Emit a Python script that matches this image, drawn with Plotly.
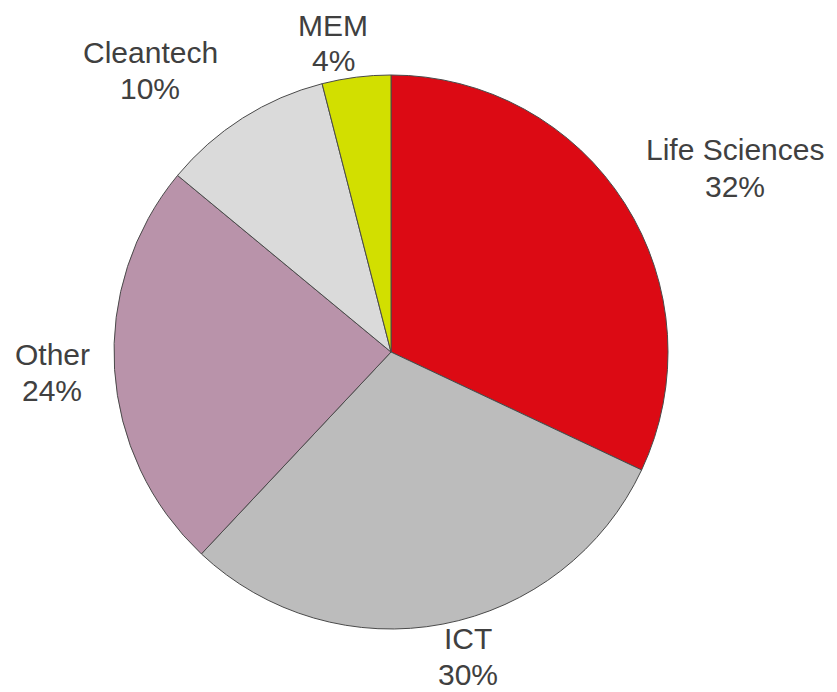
import plotly.graph_objects as go

labels = ["Life Sciences", "ICT", "Other", "Cleantech", "MEM"]
values = [32, 30, 24, 10, 4]
colors = ["#dc0a14", "#bcbcbc", "#b993aa", "#dadada", "#d2df00"]
# label block centres in pixels (x from left, y from top)
label_px = [(735, 168), (468, 656), (52, 372), (150, 70), (333, 43)]

W, H = 837, 692
cx, cy, r = 391, 352, 277
LINE_GAP = 36

fig = go.Figure(go.Pie(
    labels=labels, values=values, sort=False, direction="clockwise", rotation=0,
    marker=dict(colors=colors, line=dict(color="#4a4a4a", width=1)),
    textinfo="none", hoverinfo="label+percent", showlegend=False,
    domain=dict(x=[(cx - r) / W, (cx + r) / W], y=[1 - (cy + r) / H, 1 - (cy - r) / H]),
))

total = sum(values)
font = dict(family="Liberation Sans, Arial", size=30, color="#404040")
for lab, val, (px, py) in zip(labels, values, label_px):
    for txt, dy in ((lab, -LINE_GAP / 2), (f"{round(100 * val / total)}%", LINE_GAP / 2)):
        fig.add_annotation(
            x=px / W, y=1 - (py + dy) / H, xref="paper", yref="paper",
            text=txt, showarrow=False, font=font,
            xanchor="center", yanchor="middle", align="center",
        )

fig.update_layout(width=W, height=H, margin=dict(l=0, r=0, t=0, b=0),
                  paper_bgcolor="white", plot_bgcolor="white")
fig.write_html("out.html", config={"displayModeBar": False},
               post_script="document.body.style.margin='0';")
